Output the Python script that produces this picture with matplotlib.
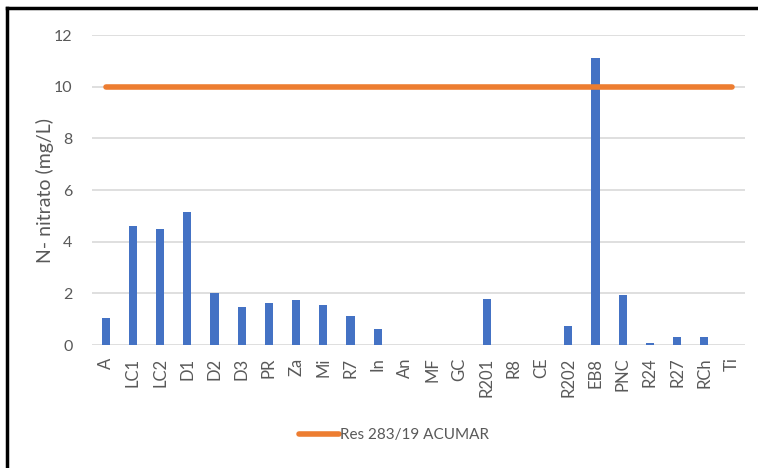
import matplotlib.pyplot as plt
from matplotlib.lines import Line2D
import numpy as np

# sampling sites and N-nitrate values (mg/L)
sites = ['A', 'LC1', 'LC2', 'D1', 'D2', 'D3', 'PR', 'Za', 'Mi', 'R7', 'In', 'An',
         'MF', 'GC', 'R201', 'R8', 'CE', 'R202', 'EB8', 'PNC', 'R24', 'R27', 'RCh', 'Ti']
nitrate = [1.03, 4.61, 4.48, 5.14, 2.03, 1.47, 1.64, 1.73, 1.56, 1.13, 0.61, 0,
           0, 0, 1.77, 0, 0, 0.74, 11.12, 1.95, 0.09, 0.30, 0.30, 0]
limit = [10] * len(sites)
limit_label = 'Res 283/19 ACUMAR'

plt.rcParams['font.family'] = ['Lato', 'DejaVu Sans']
grey = '#595959'

fig = plt.figure(figsize=(7.58, 4.68), dpi=100)
ax = fig.add_axes([0.1214, 0.2628, 0.8616, 0.6622])

x = np.arange(len(sites))
ax.bar(x, nitrate, width=0.3, color='#4472C4', zorder=2)
ax.plot(x, limit, color='#ED7D31', lw=4, solid_capstyle='round', zorder=3,
        label=limit_label)

ax.set_xlim(-0.5, len(sites) - 0.5)
ax.set_ylim(0, 12)
ax.set_yticks(range(0, 13, 2))
ax.set_xticks(x)
ax.set_xticklabels(sites, rotation=90)
ax.tick_params(axis='both', length=0, colors=grey)
ax.tick_params(axis='y', pad=14, labelsize=11.5)
ax.tick_params(axis='x', pad=9, labelsize=12)
ax.grid(axis='y', color='#d9d9d9', lw=1.2, zorder=0)
ax.set_axisbelow(True)
for s in ax.spines.values():
    s.set_visible(False)

ax.set_ylabel('N- nitrato (mg/L)', color=grey, fontsize=14, labelpad=0)

fig.legend(loc='center', bbox_to_anchor=(0.52, 0.07), frameon=False,
           fontsize=11, labelcolor=grey, handlelength=2.6, handletextpad=0.1)

# border on the top and left edge like the original screenshot
fig.add_artist(Line2D([0.0095, 0.0095], [0, 0.983], color='black', lw=2.5,
                      transform=fig.transFigure))
fig.add_artist(Line2D([0.0095, 1], [0.983, 0.983], color='black', lw=2.5,
                      transform=fig.transFigure))

fig.savefig('out.png')
